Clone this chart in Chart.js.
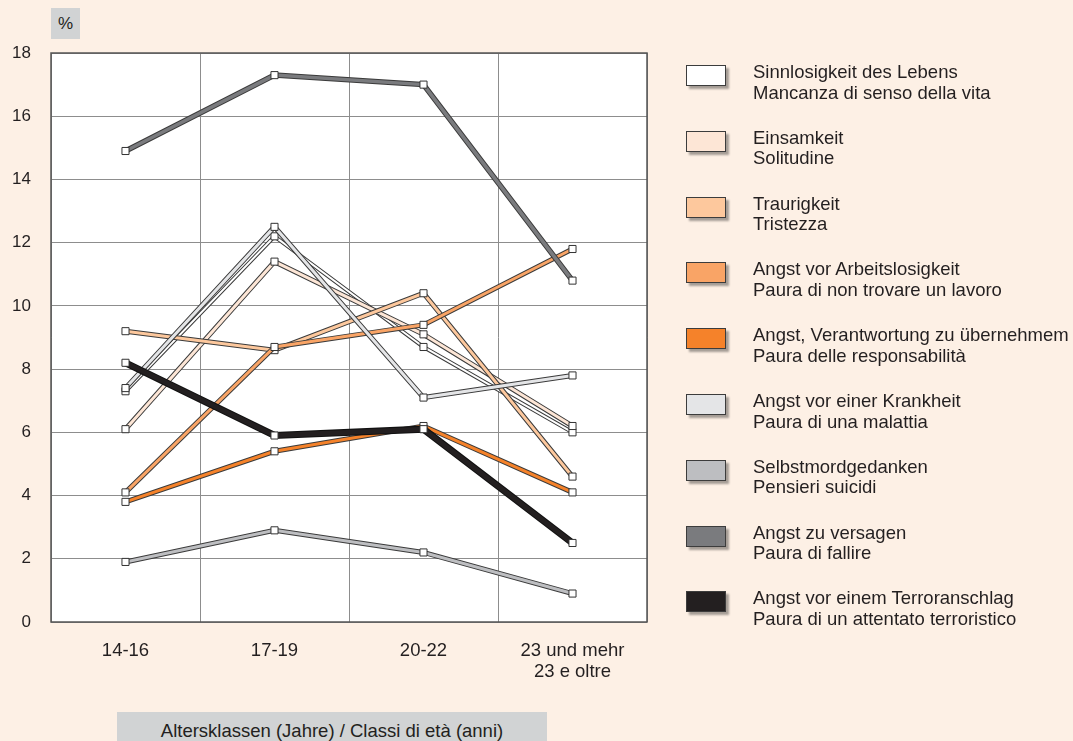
<!DOCTYPE html>
<html>
<head>
<meta charset="utf-8">
<script src="https://cdn.jsdelivr.net/npm/chart.js@4"></script>
<style>
  body { margin: 0; background: #fdf0e5; font-family: "Liberation Sans", Arial, sans-serif; color: #231f20; }
  #wrap { position: relative; width: 1073px; height: 741px; }
  #chart { position: absolute; left: 0; top: 0; }
  .tag { position: absolute; background: #d1d3d4; text-align: center; }
  #unit { left: 51px; top: 8px; width: 29px; height: 31px; line-height: 31px; font-size: 17px; }
  #xtitle { left: 117px; top: 712px; width: 430px; height: 29px; line-height: 38px; font-size: 18.5px; }
  .leg { position: absolute; left: 686px; font-size: 18.5px; line-height: 20.5px; }
  .leg .box { position: absolute; left: 0; top: 3px; width: 38px; height: 19px; border: 1px solid #3c3c3c; box-shadow: 3px 3px 2px rgba(0,0,0,0.35); }
  .leg .txt { position: absolute; left: 67px; top: 0; white-space: nowrap; }
</style>
</head>
<body>
<div id="wrap">
  <canvas id="chart" width="1073" height="741"></canvas>
  <div class="tag" id="unit">%</div>
  <div class="tag" id="xtitle">Altersklassen (Jahre) / Classi di età (anni)</div>
  <div id="legend"></div>
</div>
<script>
var ageGroups = ['14-16', '17-19', '20-22', ['23 und mehr', '23 e oltre']];

var sinnlosigkeit    = [7.3, 12.2, 8.7, 6.0];
var einsamkeit       = [6.1, 11.4, 9.1, 6.2];
var traurigkeit      = [9.2, 8.6, 10.4, 4.6];
var arbeitslosigkeit = [4.1, 8.7, 9.4, 11.8];
var verantwortung    = [3.8, 5.4, 6.2, 4.1];
var krankheit        = [7.4, 12.5, 7.1, 7.8];
var selbstmord       = [1.9, 2.9, 2.2, 0.9];
var versagen         = [14.9, 17.3, 17.0, 10.8];
var terror           = [8.2, 5.9, 6.1, 2.5];

var seriesNames = [
  ['Sinnlosigkeit des Lebens', 'Mancanza di senso della vita'],
  ['Einsamkeit', 'Solitudine'],
  ['Traurigkeit', 'Tristezza'],
  ['Angst vor Arbeitslosigkeit', 'Paura di non trovare un lavoro'],
  ['Angst, Verantwortung zu übernehmem', 'Paura delle responsabilità'],
  ['Angst vor einer Krankheit', 'Paura di una malattia'],
  ['Selbstmordgedanken', 'Pensieri suicidi'],
  ['Angst zu versagen', 'Paura di fallire'],
  ['Angst vor einem Terroranschlag', 'Paura di un attentato terroristico']
];
var seriesColors = ['#ffffff', '#fde6d6', '#fdc89d', '#f9a466', '#f5822a', '#e4e5e7', '#bdbec1', '#7a7b7e', '#231f20'];
var seriesWidths = [2, 3, 3, 3, 3, 3, 3, 3.5, 5];
var seriesData = [sinnlosigkeit, einsamkeit, traurigkeit, arbeitslosigkeit, verantwortung, krankheit, selbstmord, versagen, terror];

// legend as html, two lines per entry
var legendHtml = '';
for (var i = 0; i < seriesNames.length; i++) {
  legendHtml += '<div class="leg" style="top:' + (62 + i * 65.8) + 'px">' +
    '<div class="box" style="background:' + seriesColors[i] + '"></div>' +
    '<div class="txt">' + seriesNames[i][0] + '<br>' + seriesNames[i][1] + '</div></div>';
}
document.getElementById('legend').innerHTML = legendHtml;

var datasets = seriesData.map(function(d, i) {
  return {
    label: seriesNames[i][0],
    data: d,
    borderColor: seriesColors[i],
    borderWidth: seriesWidths[i],
    outline: i == 8 ? '#111' : '#3a3a3a',
    pointStyle: 'rect',
    pointRadius: 5,
    pointBackgroundColor: '#fff',
    pointBorderColor: '#333',
    pointBorderWidth: 1,
    tension: 0,
    order: 9 - i
  };
});

// white plot area + dark frame
var plotBg = {
  id: 'plotBg',
  beforeDraw: function(chart) {
    var a = chart.chartArea, ctx = chart.ctx;
    ctx.save();
    ctx.fillStyle = '#fff';
    ctx.fillRect(a.left, a.top, a.right - a.left, a.bottom - a.top);
    ctx.restore();
  },
  beforeDatasetsDraw: function(chart) {
    var a = chart.chartArea, ctx = chart.ctx;
    ctx.save();
    ctx.strokeStyle = '#555';
    ctx.lineWidth = 1.5;
    ctx.strokeRect(a.left, a.top, a.right - a.left, a.bottom - a.top);
    ctx.restore();
  }
};

// dark edge under each line
var outlines = {
  id: 'outlines',
  beforeDatasetDraw: function(chart, args) {
    var ds = chart.data.datasets[args.index];
    var pts = args.meta.data;
    var ctx = chart.ctx;
    ctx.save();
    ctx.strokeStyle = ds.outline;
    ctx.lineWidth = ds.borderWidth + 2;
    ctx.lineJoin = 'miter';
    ctx.beginPath();
    pts.forEach(function(p, k) {
      if (k == 0) ctx.moveTo(p.x, p.y); else ctx.lineTo(p.x, p.y);
    });
    ctx.stroke();
    ctx.restore();
  }
};

new Chart('chart', {
  type: 'line',
  data: { labels: ageGroups, datasets: datasets },
  plugins: [plotBg, outlines],
  options: {
    responsive: false,
    animation: false,
    layout: { padding: { top: 53, right: 426, left: 0, bottom: 0 } },
    plugins: { legend: { display: false }, tooltip: { enabled: false } },
    scales: {
      x: {
        offset: true,
        grid: { offset: true, color: '#8d8d8d', lineWidth: 1, drawTicks: false },
        border: { display: false },
        ticks: { color: '#231f20', padding: 18, font: { family: 'Liberation Sans', size: 18.5, lineHeight: 1.15 }, maxRotation: 0 },
        afterFit: function(s) { s.height = 119; }
      },
      y: {
        min: 0, max: 18,
        grid: { color: '#8d8d8d', lineWidth: 1, drawTicks: false },
        border: { display: false },
        ticks: { stepSize: 2, color: '#231f20', padding: 20, font: { family: 'Liberation Sans', size: 17 } },
        afterFit: function(s) { s.width = 51; }
      }
    }
  }
});
</script>
</body>
</html>
